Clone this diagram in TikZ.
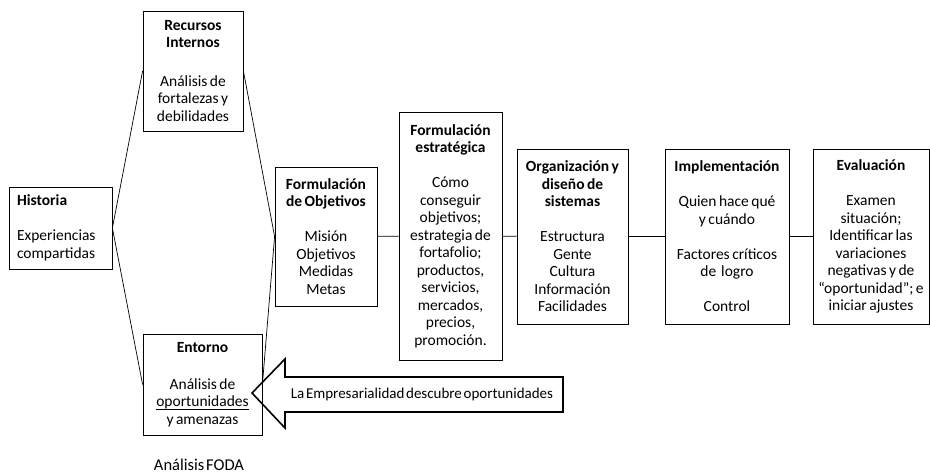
\documentclass[tikz,border=0pt]{standalone}
\usepackage{fontspec}
\setmainfont{Carlito}[WordSpace=0.5]
\newcommand{\subrayado}[1]{\leavevmode\setbox0\hbox{#1}\rlap{\rule[-3pt]{\wd0}{0.7pt}}\box0}
\begin{document}
\begin{tikzpicture}[x=1pt,y=-1pt,
    caja/.style={draw,line width=0.8pt,inner sep=0pt,align=center,
      font=\fontsize{15.5}{17.5}\selectfont,
      execute at begin node={\spaceskip=0.16em\relax}},
    enlace/.style={line width=0.7pt},
    flecha/.style={line width=1.6pt,line join=miter}]
    \useasboundingbox (0,0) rectangle (930,475);

    % Historia
    \node[caja,align=left,minimum width=103pt,minimum height=82pt,text width=87pt] (hist) at (60.5,228)
      {\textbf{Historia}\\[\baselineskip]Experiencias\\compartidas};

    % Analisis FODA
    \node[caja,minimum width=100pt,minimum height=120pt,text width=98pt] (rec) at (193,71)
      {\textbf{Recursos}\\\textbf{Internos}\\[1.2\baselineskip]Análisis de\\fortalezas y\\debilidades};
    \node[caja,minimum width=119pt,minimum height=101pt,text width=115pt] (ent) at (202.5,384.5)
      {\textbf{Entorno}\\[1.1\baselineskip]Análisis de\\\subrayado{oportunidades}\\y amenazas};
    \node[font=\fontsize{16.5}{18}\selectfont] (foda) at (199,465) {Análisis FODA};

    % Etapas
    \node[caja,minimum width=102pt,minimum height=139pt,text width=100pt] (obj) at (326,236.5)
      {\textbf{Formulación}\\\textbf{de Objetivos}\\[\baselineskip]Misión\\Objetivos\\Medidas\\Metas};
    \node[caja,minimum width=103pt,minimum height=248pt,text width=101pt] (est) at (450.5,236)
      {\textbf{Formulación}\\\textbf{estratégica}\\[\baselineskip]Cómo\\conseguir\\objetivos;\\estrategia de\\fortafolio;\\productos,\\servicios,\\mercados,\\precios,\\promoción.};
    \node[caja,minimum width=111pt,minimum height=175pt,text width=109pt] (org) at (572.5,236.5)
      {\textbf{Organización y}\\\textbf{diseño de}\\\textbf{sistemas}\\[\baselineskip]Estructura\\Gente\\Cultura\\Información\\Facilidades};
    \node[caja,minimum width=124pt,minimum height=175pt,text width=122pt] (imp) at (727,236.5)
      {\textbf{Implementación}\\[\baselineskip]Quien hace qué\\y cuándo\\[\baselineskip]Factores críticos\\de\ \ logro\\[\baselineskip]Control};
    \node[caja,minimum width=116pt,minimum height=175pt,text width=115pt] (eva) at (871,236.5)
      {\textbf{Evaluación}\\[\baselineskip]Examen\\situación;\\Identificar las\\variaciones\\negativas y de\\“oportunidad”; e\\iniciar ajustes};

    % Enlaces
    \draw[enlace] (rec.west) -- (hist.east) -- (ent.west);
    \draw[enlace] (rec.east) -- (obj.west) -- (ent.east);
    \draw[enlace] (obj) -- (est);
    \draw[enlace] (est) -- (org);
    \draw[enlace] (org) -- (imp);
    \draw[enlace] (imp) -- (eva);

    % Flecha grande
    \draw[flecha] (252,393) -- (285,359) -- (285,377) -- (563,377) -- (563,412)
      -- (285,412) -- (285,428) -- cycle;
    \node[font=\fontsize{15}{17.5}\selectfont] (emp) at (422,394.5) {La Empresarialidad descubre oportunidades};
\end{tikzpicture}
\end{document}
